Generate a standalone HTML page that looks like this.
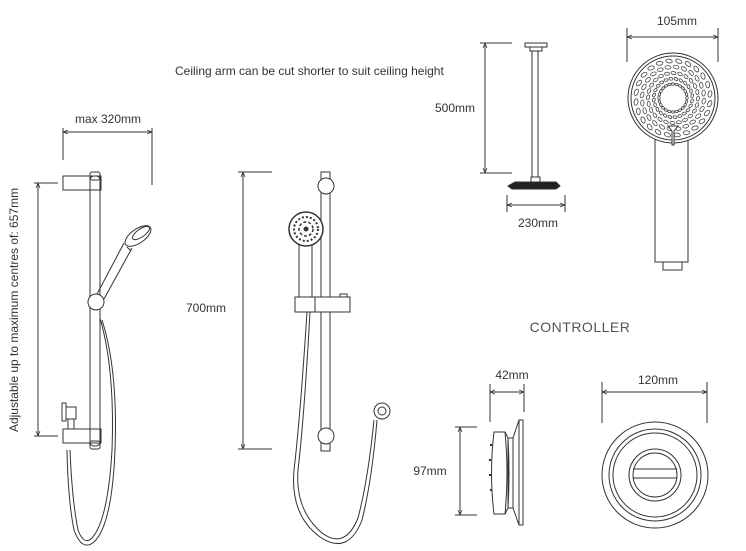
<!DOCTYPE html>
<html><head><meta charset="utf-8"><style>
html,body{margin:0;padding:0;background:#fff;}
svg{display:block;}
text{font-family:"Liberation Sans",sans-serif;font-size:12px;fill:#333;}
</style></head><body>
<svg width="746" height="551" viewBox="0 0 746 551" xmlns="http://www.w3.org/2000/svg">
<defs>
<marker id="a" viewBox="0 0 10 10" refX="10" refY="5" markerWidth="5" markerHeight="5" orient="auto-start-reverse"><path d="M0,1 L10,5 L0,9" fill="none" stroke="#333" stroke-width="1.5"/></marker>
<g id="arm" fill="none" stroke="#444" stroke-width="0.8">
<ellipse cx="0" cy="-14" rx="1.5" ry="1.2"/>
<ellipse cx="3" cy="-19" rx="2" ry="1.3" transform="rotate(30 3 -19)"/>
<ellipse cx="7" cy="-24" rx="2.5" ry="1.5" transform="rotate(30 7 -24)"/>
<ellipse cx="11" cy="-29" rx="3" ry="1.7" transform="rotate(35 11 -29)"/>
<ellipse cx="15" cy="-34" rx="3.3" ry="1.9" transform="rotate(40 15 -34)"/>
</g>
</defs>
<g fill="none" stroke="#333" stroke-width="1">
<line x1="63" y1="132" x2="152" y2="132" marker-start="url(#a)" marker-end="url(#a)"/>
<line x1="63" y1="128" x2="63" y2="160"/><line x1="152" y1="128" x2="152" y2="185"/>
<line x1="38" y1="183" x2="38" y2="436" marker-start="url(#a)" marker-end="url(#a)"/>
<line x1="34" y1="183" x2="58" y2="183"/><line x1="34" y1="436" x2="58" y2="436"/>
<rect x="90" y="176" width="10" height="270" rx="4"/>
<rect x="63" y="176" width="38" height="14"/>
<rect x="63" y="429" width="38" height="14"/>
<rect x="90" y="172" width="10" height="8" rx="2"/><rect x="90" y="441" width="10" height="8" rx="2"/>
<path d="M96,296 L124,243 M104,299 L132,248"/>
<ellipse cx="138" cy="236" rx="15" ry="7" transform="rotate(-35 138 236)" fill="#fff"/>
<ellipse cx="141" cy="233" rx="10" ry="4" transform="rotate(-35 141 233)"/>
<path d="M127,247 L131,251"/>
<circle cx="96" cy="302" r="8" fill="#fff"/>
<path d="M100,318 Q115,370 112,450 Q108,520 92,538 Q84,546 78,530 Q72,500 70,450"/>
<path d="M102,320 Q118,370 115,450 Q112,525 94,542 Q82,552 74,530 Q68,500 67,450"/>
<rect x="62" y="403" width="4" height="18"/><rect x="66" y="407" width="10" height="12"/>
<rect x="68" y="419" width="6" height="10"/>
<line x1="243" y1="172" x2="243" y2="449" marker-start="url(#a)" marker-end="url(#a)"/>
<line x1="238" y1="172" x2="272" y2="172"/><line x1="238" y1="449" x2="272" y2="449"/>
<rect x="321" y="172" width="9" height="279"/>
<circle cx="326" cy="186" r="8" fill="#fff"/><circle cx="326" cy="436" r="8" fill="#fff"/>
<rect x="299" y="245" width="13" height="52" fill="#fff"/>
<circle cx="306" cy="229" r="17" fill="#fff" stroke-width="1.5"/>
<circle cx="306" cy="229" r="12" stroke-width="2" stroke-dasharray="2 2"/>
<circle cx="306" cy="229" r="7" stroke-width="1.5" stroke-dasharray="3 2"/>
<circle cx="306" cy="229" r="2" fill="#333"/>
<rect x="295" y="297" width="20" height="15" fill="#fff"/>
<rect x="315" y="297" width="35" height="15" fill="#fff"/>
<rect x="340" y="294" width="7" height="3"/>
<path d="M307,312 Q300,420 294,470 Q290,515 320,537 Q348,556 362,520 Q372,480 377,420"/>
<path d="M310,312 Q304,420 298,470 Q295,510 322,533 Q345,550 358,518 Q368,480 374,420"/>
<circle cx="382" cy="411" r="8" fill="#fff"/><circle cx="382" cy="411" r="4"/>
<line x1="485" y1="43" x2="485" y2="173" marker-start="url(#a)" marker-end="url(#a)"/>
<line x1="480" y1="43" x2="512" y2="43"/><line x1="480" y1="173" x2="512" y2="173"/>
<rect x="525" y="43" width="22" height="4"/><rect x="530" y="47" width="12" height="4"/>
<rect x="532" y="51" width="6" height="126"/>
<rect x="531" y="177" width="9" height="5"/>
<path d="M508,186 L515,182 L556,182 L560,186 L556,189 L512,189 Z" fill="#222"/>
<line x1="507" y1="205" x2="565" y2="205" marker-start="url(#a)" marker-end="url(#a)"/>
<line x1="507" y1="195" x2="507" y2="212"/><line x1="565" y1="195" x2="565" y2="212"/>
<line x1="627" y1="37" x2="718" y2="37" marker-start="url(#a)" marker-end="url(#a)"/>
<line x1="627" y1="28" x2="627" y2="62"/><line x1="718" y1="28" x2="718" y2="62"/>
<rect x="655" y="138" width="33" height="124"/>
<rect x="663" y="262" width="19" height="8"/>
<circle cx="673" cy="98" r="45" fill="#fff"/>
<circle cx="673" cy="98" r="42"/>
<g transform="translate(673,98)">
<use href="#arm"/><use href="#arm" transform="rotate(30)"/><use href="#arm" transform="rotate(60)"/><use href="#arm" transform="rotate(90)"/><use href="#arm" transform="rotate(120)"/><use href="#arm" transform="rotate(150)"/><use href="#arm" transform="rotate(180)"/><use href="#arm" transform="rotate(210)"/><use href="#arm" transform="rotate(240)"/><use href="#arm" transform="rotate(270)"/><use href="#arm" transform="rotate(300)"/><use href="#arm" transform="rotate(330)"/>
<use href="#arm" transform="rotate(15)"/><use href="#arm" transform="rotate(45)"/><use href="#arm" transform="rotate(75)"/><use href="#arm" transform="rotate(105)"/><use href="#arm" transform="rotate(135)"/><use href="#arm" transform="rotate(165)"/><use href="#arm" transform="rotate(195)"/><use href="#arm" transform="rotate(225)"/><use href="#arm" transform="rotate(255)"/><use href="#arm" transform="rotate(285)"/><use href="#arm" transform="rotate(315)"/><use href="#arm" transform="rotate(345)"/>
</g>
<path d="M668,126 L678,126 L674,131 L674,145 L672,145 L672,131 Z" fill="#fff"/>
<line x1="490" y1="392" x2="524" y2="392" marker-start="url(#a)" marker-end="url(#a)"/>
<line x1="490" y1="384" x2="490" y2="422"/><line x1="524" y1="384" x2="524" y2="412"/>
<line x1="460" y1="427" x2="460" y2="515" marker-start="url(#a)" marker-end="url(#a)"/>
<line x1="455" y1="427" x2="477" y2="427"/><line x1="455" y1="515" x2="477" y2="515"/>
<path d="M494,432 L505,432 Q509,473 505,514 L494,514 Q489,473 494,432 Z"/>
<path d="M505,432 L508,438 Q510,473 508,508 L505,514"/>
<rect x="508" y="438" width="5" height="70"/>
<path d="M513,438 L519,420 L519,525 L513,508"/>
<rect x="519" y="420" width="4" height="105"/>
<path d="M490,445 L492,445 M489,460 L491,460 M489,475 L491,475 M490,490 L492,490" stroke-width="2"/>
<line x1="602" y1="392" x2="707" y2="392" marker-start="url(#a)" marker-end="url(#a)"/>
<line x1="602" y1="382" x2="602" y2="423"/><line x1="707" y1="382" x2="707" y2="423"/>
<circle cx="655" cy="475" r="53"/><circle cx="655" cy="475" r="46"/><circle cx="655" cy="475" r="42"/>
<circle cx="655" cy="475" r="26"/><circle cx="655" cy="475" r="22"/>
<line x1="633" y1="469" x2="677" y2="469"/><line x1="633" y1="478" x2="677" y2="478"/>
</g>
<text x="108" y="123" text-anchor="middle">max 320mm</text>
<text x="0" y="0" transform="translate(18,310) rotate(-90)" text-anchor="middle">Adjustable up to maximum centres of: 657mm</text>
<text x="206" y="312" text-anchor="middle">700mm</text>
<text x="175" y="75">Ceiling arm can be cut shorter to suit ceiling height</text>
<text x="455" y="112" text-anchor="middle">500mm</text>
<text x="538" y="227" text-anchor="middle">230mm</text>
<text x="677" y="25" text-anchor="middle">105mm</text>
<text x="580" y="332" text-anchor="middle" style="font-size:14px;fill:#555;letter-spacing:0.5px">CONTROLLER</text>
<text x="512" y="379" text-anchor="middle">42mm</text>
<text x="430" y="475" text-anchor="middle">97mm</text>
<text x="658" y="384" text-anchor="middle">120mm</text>
</svg>
</body></html>
